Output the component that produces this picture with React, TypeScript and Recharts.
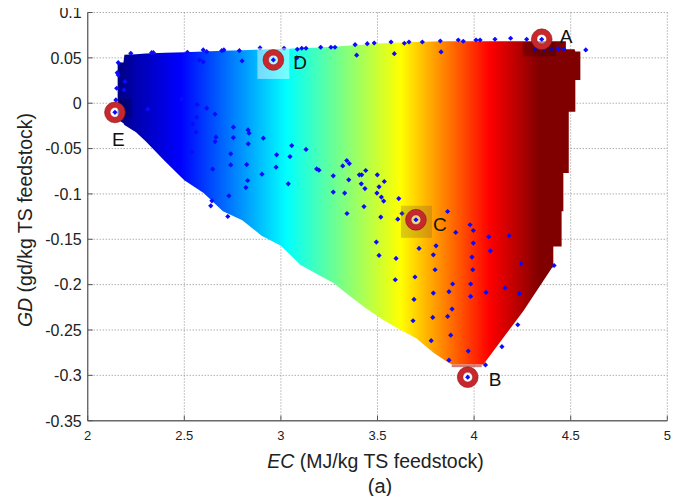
import React from 'react'
import { ComposedChart, Area, Scatter, XAxis, YAxis, CartesianGrid } from 'recharts'

// outline of the coloured region: x, lower and upper GD edge
const edgeX = [
  2.155, 2.185, 2.19, 2.25, 2.3, 2.4, 2.5, 2.6, 2.7, 2.8, 2.9, 3.0, 3.1, 3.2, 3.27, 3.36,
  3.44, 3.53, 3.62, 3.7, 3.79, 3.86, 3.885, 4.048, 4.255, 4.404, 4.41, 4.41, 4.453, 4.453,
  4.462, 4.462, 4.475, 4.475, 4.49, 4.49, 4.52, 4.524, 4.524, 4.55, 4.55,
]
const edgeLow = [
  -0.018, -0.022, -0.024, -0.032, -0.042, -0.064, -0.085, -0.099, -0.119, -0.129, -0.146,
  -0.157, -0.178, -0.19, -0.198, -0.213, -0.226, -0.239, -0.25, -0.259, -0.275, -0.285,
  -0.288, -0.288, -0.229, -0.181, -0.181, -0.158, -0.158, -0.119, -0.119, -0.077, -0.077,
  -0.077, -0.077, -0.0093, -0.0093, -0.0093, 0.0256, 0.0256, 0.057,
]
const edgeHigh = [
  0.045, 0.045, 0.0535, 0.054, 0.0548, 0.0556, 0.0563, 0.057, 0.0577, 0.0584, 0.0591,
  0.0598, 0.0605, 0.0613, 0.0622, 0.0635, 0.0648, 0.066, 0.0668, 0.0675, 0.068, 0.0683,
  0.0683, 0.0683, 0.0683, 0.0683, 0.0683, 0.0683, 0.0683, 0.0683, 0.0683, 0.0683, 0.0683,
  0.0595, 0.0595, 0.0595, 0.0595, 0.057, 0.057, 0.057, 0.057,
]

// sampled designs (EC, GD)
const ecValues = [
  2.223, 2.331, 2.34, 2.516, 2.598, 2.616, 2.694, 2.705, 2.785, 2.892, 2.578, 2.598, 2.799,
  2.158, 2.153, 2.158, 2.193, 2.15, 2.188, 2.146, 2.487, 2.567, 2.616, 2.311, 2.659, 2.564,
  2.543, 2.754, 2.561, 2.83, 2.835, 2.664, 2.754, 2.909, 2.659, 2.831, 3.016, 3.085, 3.108,
  3.13, 3.206, 3.259, 3.28, 3.384, 3.447, 3.483, 3.57, 3.639, 3.663, 3.732, 3.825, 3.392,
  3.587, 3.829, 3.082, 3.056, 3.13, 3.918, 3.944, 4.01, 4.031, 4.108, 4.189, 4.272, 4.315,
  4.362, 4.402, 4.436, 4.465, 4.578, 2.538, 2.74, 2.74, 2.823, 2.978, 2.975, 2.647, 2.902,
  2.828, 2.819, 2.731, 2.643, 2.637, 2.725, 3.047, 3.185, 3.197, 3.32, 3.341, 3.354, 3.271,
  3.406, 3.418, 3.439, 3.499, 3.351, 3.038, 3.416, 3.535, 3.435, 3.508, 3.271, 3.33, 3.497,
  3.52, 3.532, 3.61, 3.43, 3.627, 3.605, 3.342, 3.517, 3.863, 3.494, 3.508, 3.715, 3.803,
  3.789, 3.596, 3.979, 3.905, 3.996, 4.076, 4.181, 3.996, 4.084, 3.989, 4.243, 4.414, 3.993,
  3.798, 3.694, 3.592, 3.789, 3.889, 3.982, 3.87, 4.062, 4.16, 4.234, 3.982, 3.689, 3.886,
  3.786, 3.863, 3.684, 4.226, 3.778, 3.879, 4.144, 3.97, 3.87, 4.059,
]
const gdValues = [
  0.055, 0.0557, 0.0557, 0.0562, 0.0587, 0.0568, 0.0579, 0.0587, 0.0579, 0.0609, 0.0477,
  0.0455, 0.0466, 0.0447, 0.0337, 0.0312, 0.0238, 0.0165, 0.0146, 0.0036, 0.0044, -0.0015,
  -0.0055, -0.0066, -0.0121, -0.0154, -0.0231, -0.0264, -0.0319, -0.0294, -0.033, -0.0374,
  -0.0379, -0.0385, -0.0423, -0.0448, 0.0606, 0.0595, 0.0606, 0.0606, 0.0617, 0.0617,
  0.0617, 0.0645, 0.0656, 0.0664, 0.0675, 0.0661, 0.0675, 0.0675, 0.0686, 0.0529, 0.0546,
  0.0565, 0.0499, -0.0467, -0.0509, 0.0697, 0.0683, 0.0697, 0.0697, 0.0705, 0.0716, 0.0705,
  0.0595, 0.0595, 0.0595, 0.0598, 0.0595, 0.0587, -0.054, -0.0558, -0.068, -0.0676, -0.0569,
  -0.0705, -0.0727, -0.0782, -0.0852, -0.093, -0.1021, -0.1076, -0.1131, -0.1249, -0.0588,
  -0.0724, -0.0738, -0.0691, -0.0632, -0.0665, -0.0801, -0.079, -0.079, -0.0742, -0.079,
  -0.0845, -0.0889, -0.0889, -0.0863, -0.0941, -0.0922, -0.098, -0.0991, -0.0991, -0.1035,
  -0.1079, -0.1051, -0.1139, -0.1216, -0.1278, -0.1216, -0.1255, -0.1194, -0.1531, -0.1678,
  -0.1601, -0.1572, -0.1671, -0.1711, -0.134, -0.1425, -0.1403, -0.1472, -0.1461, -0.1542,
  -0.1627, -0.1696, -0.177, -0.1789, -0.1836, -0.1836, -0.1916, -0.1946, -0.2093, -0.1993,
  -0.1993, -0.2078, -0.2086, -0.2037, -0.21, -0.213, -0.2163, -0.2269, -0.2361, -0.235,
  -0.2398, -0.2442, -0.2618, -0.2557, -0.2684, -0.2733, -0.2833, -0.2885,
]

// highlighted designs
const markLetters = ['A', 'B', 'C', 'D', 'E']
const markEC = [4.35, 3.967, 3.699, 2.961, 2.141]
const markGD = [0.0705, -0.302, -0.1285, 0.0477, -0.0101]

const xTicks = [2, 2.5, 3, 3.5, 4, 4.5, 5]
const yTicks = [0.1, 0.05, 0, -0.05, -0.1, -0.15, -0.2, -0.25, -0.3, -0.35]

// jet colour map along EC
const jetAt = [2.155, 2.25, 2.48, 3.03, 3.62, 4.08, 4.34, 4.55]
const jetColors = ['#000080', '#0000b0', '#0000ff', '#00ffff', '#ffff00', '#ff0000', '#800000', '#800000']

const areaData = edgeX.map((x, i) => ({ x, band: [edgeLow[i], edgeHigh[i]] }))
const points = ecValues.map((x, i) => ({ x, y: gdValues[i] }))
const marks = markLetters.map((letter, i) => ({ x: markEC[i], y: markGD[i], letter }))

const font = '"Liberation Sans", Arial, Helvetica, sans-serif'

const markStyle: Record<string, any> = {
  A: { label: [18, 4], box: [-19, 3, 33, 14], fill: '#300000', op: 0.3 },
  B: { label: [21, 9], box: [-16, -12.5, 30, 2.5], fill: '#a00000', op: 0.5 },
  C: { label: [17, 11], box: [-15, -14, 31, 32], fill: '#7a5a30', op: 0.28 },
  D: { label: [20, 9], box: [-16, -12, 32, 31], fill: '#ffffff', op: 0.45 },
  E: { label: [-3, 34], box: [5, -14, 12, 19], fill: '#000040', op: 0.3 },
}

const BlueDot = (props: any) => {
  const { cx, cy } = props
  const r = 2.6
  return <path d={`M${cx},${cy - r}L${cx + r},${cy}L${cx},${cy + r}L${cx - r},${cy}Z`} fill="#0a0aff" />
}

const MarkShape = (props: any) => {
  const { cx, cy, payload } = props
  const s = markStyle[payload.letter]
  return (
    <g>
      <rect x={cx + s.box[0]} y={cy + s.box[1]} width={s.box[2]} height={s.box[3]} fill={s.fill} fillOpacity={s.op} />
      <circle cx={cx} cy={cy} r={7.6} fill="#ffffff" fillOpacity={0.5} stroke="#c8282c" strokeWidth={5.6} />
      <circle cx={cx} cy={cy} r={10.4} fill="none" stroke="#7a1416" strokeWidth={0.8} strokeOpacity={0.7} />
      <circle cx={cx} cy={cy} r={4.8} fill="none" stroke="#7a1416" strokeWidth={0.6} strokeOpacity={0.6} />
      <BlueDot cx={cx} cy={cy} />
      <text x={cx + s.label[0]} y={cy + s.label[1]} fontSize={19} fontFamily={font} fill="#111">
        {payload.letter}
      </text>
    </g>
  )
}

const XTick = (props: any) => {
  const { x, y, payload } = props
  return (
    <g>
      <line x1={x} y1={y} x2={x} y2={y - 5} stroke="#555" />
      <text x={x} y={y + 19.5} textAnchor="middle" fontSize={13} fontFamily={font} fill="#222">
        {String(payload.value)}
      </text>
    </g>
  )
}

const YTick = (props: any) => {
  const { x, y, payload } = props
  return (
    <g>
      <line x1={x} y1={y} x2={x + 5} y2={y} stroke="#555" />
      <text x={x - 6} y={y + 5.8} textAnchor="end" fontSize={16} fontFamily={font} fill="#222">
        {String(payload.value)}
      </text>
    </g>
  )
}

export default function App() {
  const span = jetAt[jetAt.length - 1] - jetAt[0]
  return (
    <div style={{ position: 'relative', width: 682, height: 504, margin: -8 }}>
      <ComposedChart width={682} height={504} data={areaData} margin={{ top: 12.5, right: 14.7, bottom: 0, left: 0 }}>
        <defs>
          <linearGradient id="jet" x1="0" y1="0" x2="1" y2="0">
            {jetAt.map((v, i) => (
              <stop key={i} offset={(v - jetAt[0]) / span} stopColor={jetColors[i]} />
            ))}
          </linearGradient>
        </defs>
        <CartesianGrid stroke="#8a8a8a" strokeDasharray="1 2" />
        <XAxis
          type="number"
          dataKey="x"
          domain={[2, 5]}
          ticks={xTicks}
          interval={0}
          allowDataOverflow
          height={83.3}
          tickSize={0}
          tickMargin={0}
          tickLine={false}
          tick={XTick}
          axisLine={{ stroke: '#6a6a6a', strokeWidth: 1.4 }}
        />
        <YAxis
          type="number"
          domain={[-0.35, 0.1]}
          ticks={yTicks}
          interval={0}
          allowDataOverflow
          width={87.7}
          tickSize={0}
          tickMargin={0}
          tickLine={false}
          tick={YTick}
          axisLine={{ stroke: '#6a6a6a', strokeWidth: 1.4 }}
        />
        <Area
          type="linear"
          dataKey="band"
          stroke="none"
          fill="url(#jet)"
          fillOpacity={1}
          dot={false}
          activeDot={false}
          isAnimationActive={false}
        />
        <Scatter data={points} dataKey="y" shape={BlueDot} isAnimationActive={false} />
        <Scatter data={marks} dataKey="y" shape={MarkShape} isAnimationActive={false} />
      </ComposedChart>
      <svg width={682} height={504} style={{ position: 'absolute', left: 0, top: 0, pointerEvents: 'none' }}>
        <text x={375.5} y={468} textAnchor="middle" fontSize={19.5} fontFamily={font} fill="#222">
          <tspan fontStyle="italic">EC</tspan> (MJ/kg TS feedstock)
        </text>
        <text x={380} y={493} textAnchor="middle" fontSize={20} fontFamily={font} fill="#222">
          (a)
        </text>
        <text x={32} y={220} textAnchor="middle" fontSize={19.5} fontFamily={font} fill="#222" transform="rotate(-90 32 220)">
          <tspan fontStyle="italic">GD</tspan> (gd/kg TS feedstock)
        </text>
      </svg>
    </div>
  )
}
